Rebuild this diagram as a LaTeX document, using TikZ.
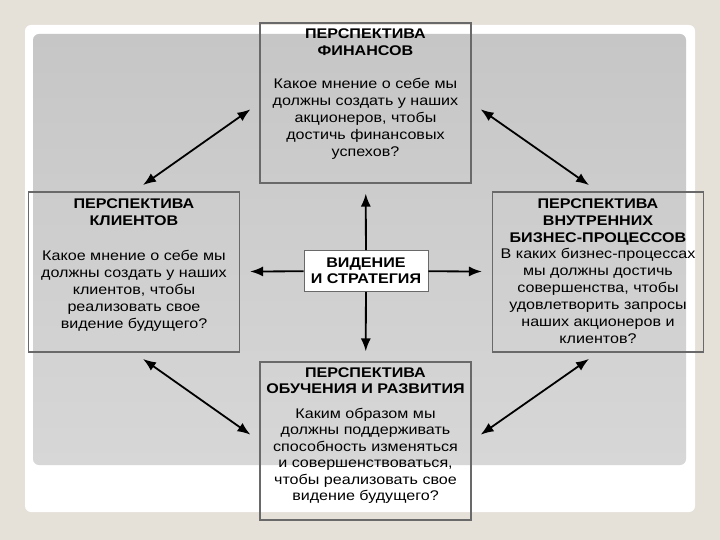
\documentclass[tikz,border=0pt]{standalone}
\usepackage{fontspec}
\setmainfont{Liberation Sans}[FakeStretch=1.15]
\usetikzlibrary{positioning,arrows.meta}

\definecolor{slidebg}{RGB}{229,224,216}
\definecolor{paneltop}{RGB}{198,198,198}
\definecolor{panelbot}{RGB}{215,215,215}
\definecolor{boxline}{RGB}{105,105,105}

\newcommand{\hd}[1]{{\bfseries #1}}

\begin{document}
\begin{tikzpicture}[
x=1pt, y=-1pt,
persp/.style={
draw=boxline,
line width=1.2pt,
minimum width=211pt,
minimum height=160pt,
inner sep=0pt
},
txt/.style={
align=center,
inner sep=0pt,
font=\fontsize{14}{17}\selectfont
},
vision/.style={
draw=boxline,
fill=white,
line width=0.8pt,
minimum width=124pt,
minimum height=41pt,
align=center,
inner sep=0pt,
font=\bfseries\fontsize{14}{16}\selectfont
},
link/.style={
{Latex[length=13pt,width=10pt]}-{Latex[length=13pt,width=10pt]},
line width=1.8pt,
shorten <=11pt,
shorten >=11pt
},
spoke/.style={
-{Latex[length=13pt,width=10pt]},
line width=1.8pt,
shorten >=10pt
}
]

% slide background
\fill[slidebg] (0,0) rectangle (720,540);
\fill[white, rounded corners=6pt] (25,25) rectangle (695,512);
\shade[top color=paneltop, bottom color=panelbot, rounded corners=6pt] (33,34) rectangle (686,465);
\useasboundingbox (0,0) rectangle (720,540);

% the four perspectives
\node[persp] (F) at (365.5,103) {};
\node[persp] (L) at (134,272) {};
\node[persp] (R) at (598,272) {};
\node[persp, minimum height=158pt] (O) at (365.5,441) {};

\node[vision] (C) at (366,271) {ВИДЕНИЕ\\И СТРАТЕГИЯ};

\node[txt, below=6pt of F.north] (Ft) {\hd{ПЕРСПЕКТИВА}\\\hd{ФИНАНСОВ}\\[16pt]Какое мнение о себе мы\\должны создать у наших\\акционеров, чтобы\\достичь финансовых\\успехов?};
\node[txt, below=7pt of L.north] (Lt) {\hd{ПЕРСПЕКТИВА}\\\hd{КЛИЕНТОВ}\\[18pt]Какое мнение о себе мы\\должны создать у наших\\клиентов, чтобы\\реализовать свое\\видение будущего?};
\node[txt, below=7pt of R.north] (Rt) {\hd{ПЕРСПЕКТИВА}\\\hd{ВНУТРЕННИХ}\\\hd{БИЗНЕС-ПРОЦЕССОВ}\\[-1pt]В каких бизнес-процессах\\мы должны достичь\\совершенства, чтобы\\удовлетворить запросы\\наших акционеров и\\клиентов?};
\node[txt, below=6pt of O.north, font=\fontsize{14}{16.5}\selectfont] (Ot) {\hd{ПЕРСПЕКТИВА}\\\hd{ОБУЧЕНИЯ И РАЗВИТИЯ}\\[8pt]Каким образом мы\\должны поддерживать\\способность изменяться\\и совершенствоваться,\\чтобы реализовать свое\\видение будущего?};

% arrows
\draw[spoke] (C) -- (F);
\draw[spoke] (C) -- (O);
\draw[spoke] (C) -- (L);
\draw[spoke] (C) -- (R);

\draw[link] (L.north) -- (F.west);
\draw[link] (F.east) -- (R.north);
\draw[link] (L.south) -- (O.west);
\draw[link] (O.east) -- (R.south);

\end{tikzpicture}
\end{document}
